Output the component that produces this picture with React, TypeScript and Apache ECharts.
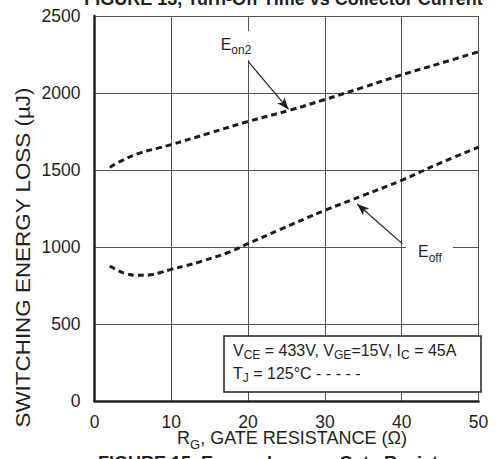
import React, { useEffect, useRef } from 'react';
import * as echarts from 'echarts';

const FONT = "'Liberation Sans', Arial, Helvetica, sans-serif";
const INK = '#231f20';

// Axis ranges / ticks
const X_MIN = 0;
const X_MAX = 50;
const X_STEP = 10;
const Y_MIN = 0;
const Y_MAX = 2500;
const Y_STEP = 500;

// E_on2 curve (RG in ohm, energy in uJ)
const eon2X = [2, 3.3, 5.9, 8.5, 10, 15, 20, 25.5, 30, 35, 40, 45, 50];
const eon2Y = [1517, 1555, 1610, 1645, 1665, 1740, 1815, 1889, 1958, 2037, 2118, 2192, 2268];

// E_off curve
const eoffX = [2, 3, 4, 5.5, 7, 8.5, 10, 12, 14, 17.7, 20, 24, 30, 35, 40, 45, 50];
const eoffY = [877, 848, 828, 816, 818, 833, 855, 880, 908, 970, 1022, 1110, 1238, 1335, 1433, 1545, 1648];

// Annotation arrows (from label to curve), in data units
const eon2Arrow = [[20, 2206], [25.27, 1893]];
const eoffArrow = [[40.1, 1020], [34.2, 1279]];

const toPairs = (xs: number[], ys: number[]) => xs.map((x, i) => [x, ys[i]]);

const txt = (size: number, extra: any = {}) => ({ fontSize: size, fontFamily: FONT, fill: INK, ...extra });

function arrowLine(pts: number[][]) {
  return [
    { coord: pts[0], symbol: 'none' },
    { coord: pts[1], symbol: 'arrow', symbolSize: [7, 12] },
  ];
}

export default function App() {
  const ref = useRef<HTMLDivElement>(null);
  useEffect(() => {
    document.body.style.margin = '0';
    const chart = echarts.init(ref.current!, null, { renderer: 'svg' });
    const dashed = { type: [6, 4] as any, width: 3, color: '#1c1c1c' };
    const arrowStyle = { type: 'solid' as const, color: INK, width: 1.2 };
    chart.setOption({
      animation: false,
      backgroundColor: '#fff',
      grid: { left: 94.5, right: 21.5, top: 16, bottom: 58, containLabel: false },
      xAxis: {
        type: 'value', min: X_MIN, max: X_MAX, interval: X_STEP,
        axisLine: { show: true, onZero: false, lineStyle: { color: INK, width: 2.5 } },
        axisTick: { show: false },
        axisLabel: { margin: 12, fontSize: 17.5, fontFamily: FONT, color: INK, formatter: (v: number) => String(v) },
        splitLine: { show: true, showMinLine: true, showMaxLine: true, lineStyle: { color: '#555', width: 1 } },
      },
      yAxis: {
        type: 'value', min: Y_MIN, max: Y_MAX, interval: Y_STEP,
        axisLine: { show: true, onZero: false, lineStyle: { color: INK, width: 2.5 } },
        axisTick: { show: false },
        axisLabel: { margin: 14, fontSize: 17.5, fontFamily: FONT, color: INK, padding: [7, 0, 0, 0], formatter: (v: number) => String(v) },
        splitLine: { show: true, showMinLine: true, showMaxLine: true, lineStyle: { color: '#555', width: 1 } },
      },
      series: [
        {
          name: 'Eon2', type: 'line', data: toPairs(eon2X, eon2Y), smooth: 0.4,
          showSymbol: false, symbol: 'none', lineStyle: dashed, z: 3,
          markLine: {
            silent: true, animation: false, label: { show: false },
            symbol: ['none', 'arrow'], lineStyle: arrowStyle, itemStyle: { color: INK },
            emphasis: { disabled: true },
            data: [arrowLine(eon2Arrow)],
          },
        },
        {
          name: 'Eoff', type: 'line', data: toPairs(eoffX, eoffY), smooth: 0.4,
          showSymbol: false, symbol: 'none', lineStyle: dashed, z: 3,
          markLine: {
            silent: true, animation: false, label: { show: false },
            symbol: ['none', 'arrow'], lineStyle: arrowStyle, itemStyle: { color: INK },
            emphasis: { disabled: true },
            data: [arrowLine(eoffArrow)],
          },
        },
      ],
      graphic: [
        // Titles (partially cut off in the reference)
        { type: 'text', x: 283.5, y: -0.7, z: 10, style: { ...txt(18, { fontWeight: 'bold' }), text: 'FIGURE 13, Turn-Off Time vs Collector Current', align: 'center', verticalAlign: 'middle' } },
        { type: 'text', x: 288.5, y: 462.6, z: 10, style: { ...txt(18, { fontWeight: 'bold' }), text: 'FIGURE 15. Energy Loss vs Gate Resistance', align: 'center', verticalAlign: 'middle' } },
        // Y axis title
        { type: 'text', x: 22.7, y: 257.5, rotation: Math.PI / 2, scaleX: 1.15, z: 10, style: { ...txt(19.5), text: 'SWITCHING ENERGY LOSS (µJ)', align: 'center', verticalAlign: 'middle' } },
        // X axis title
        {
          type: 'text', x: 292, y: 437.8, z: 10,
          style: {
            ...txt(18), text: '{m|R}{s|G}{m|, GATE RESISTANCE (Ω)}', align: 'center', verticalAlign: 'middle',
            rich: { m: txt(18), s: txt(13, { padding: [12.6, 0, 0, 0] }) },
          },
        },
        // E_on2 label
        { type: 'rect', z: 5, shape: { x: 216, y: 31, width: 41, height: 29 }, style: { fill: '#fff' } },
        {
          type: 'text', x: 220.7, y: 44.5, z: 10,
          style: { ...txt(16), text: '{m|E}{s|on2}', align: 'left', verticalAlign: 'middle', rich: { m: txt(16), s: txt(12, { padding: [11, 0, 0, 0] }) } },
        },
        // E_off label
        { type: 'rect', z: 5, shape: { x: 406, y: 236, width: 47, height: 32 }, style: { fill: '#fff' } },
        {
          type: 'text', x: 418, y: 251.2, z: 10,
          style: { ...txt(16), text: '{m|E}{s|off}', align: 'left', verticalAlign: 'middle', rich: { m: txt(16), s: txt(12, { padding: [13.5, 0, 0, 0] }) } },
        },
        // Conditions box
        { type: 'rect', z: 6, shape: { x: 224, y: 336, width: 257, height: 56 }, style: { fill: '#fff', stroke: INK, lineWidth: 1.5 } },
        {
          type: 'text', x: 233, y: 350.2, z: 10,
          style: {
            ...txt(16), text: '{m|V}{s|CE}{m| = 433V, V}{s|GE}{m|=15V, I}{s|C}{m| = 45A}', align: 'left', verticalAlign: 'middle',
            rich: { m: txt(16), s: txt(12, { padding: [9.2, 0, 0, 0] }) },
          },
        },
        {
          type: 'text', x: 233, y: 373.5, z: 10,
          style: {
            ...txt(16), text: '{m|T}{s|J}{m| = 125°C - - - - -}', align: 'left', verticalAlign: 'middle',
            rich: { m: txt(16), s: txt(12, { padding: [9.2, 0, 0, 0] }) },
          },
        },
      ],
    });
    return () => chart.dispose();
  }, []);
  return <div ref={ref} style={{ position: 'fixed', left: 0, top: 0, width: 500, height: 459 }} />;
}
